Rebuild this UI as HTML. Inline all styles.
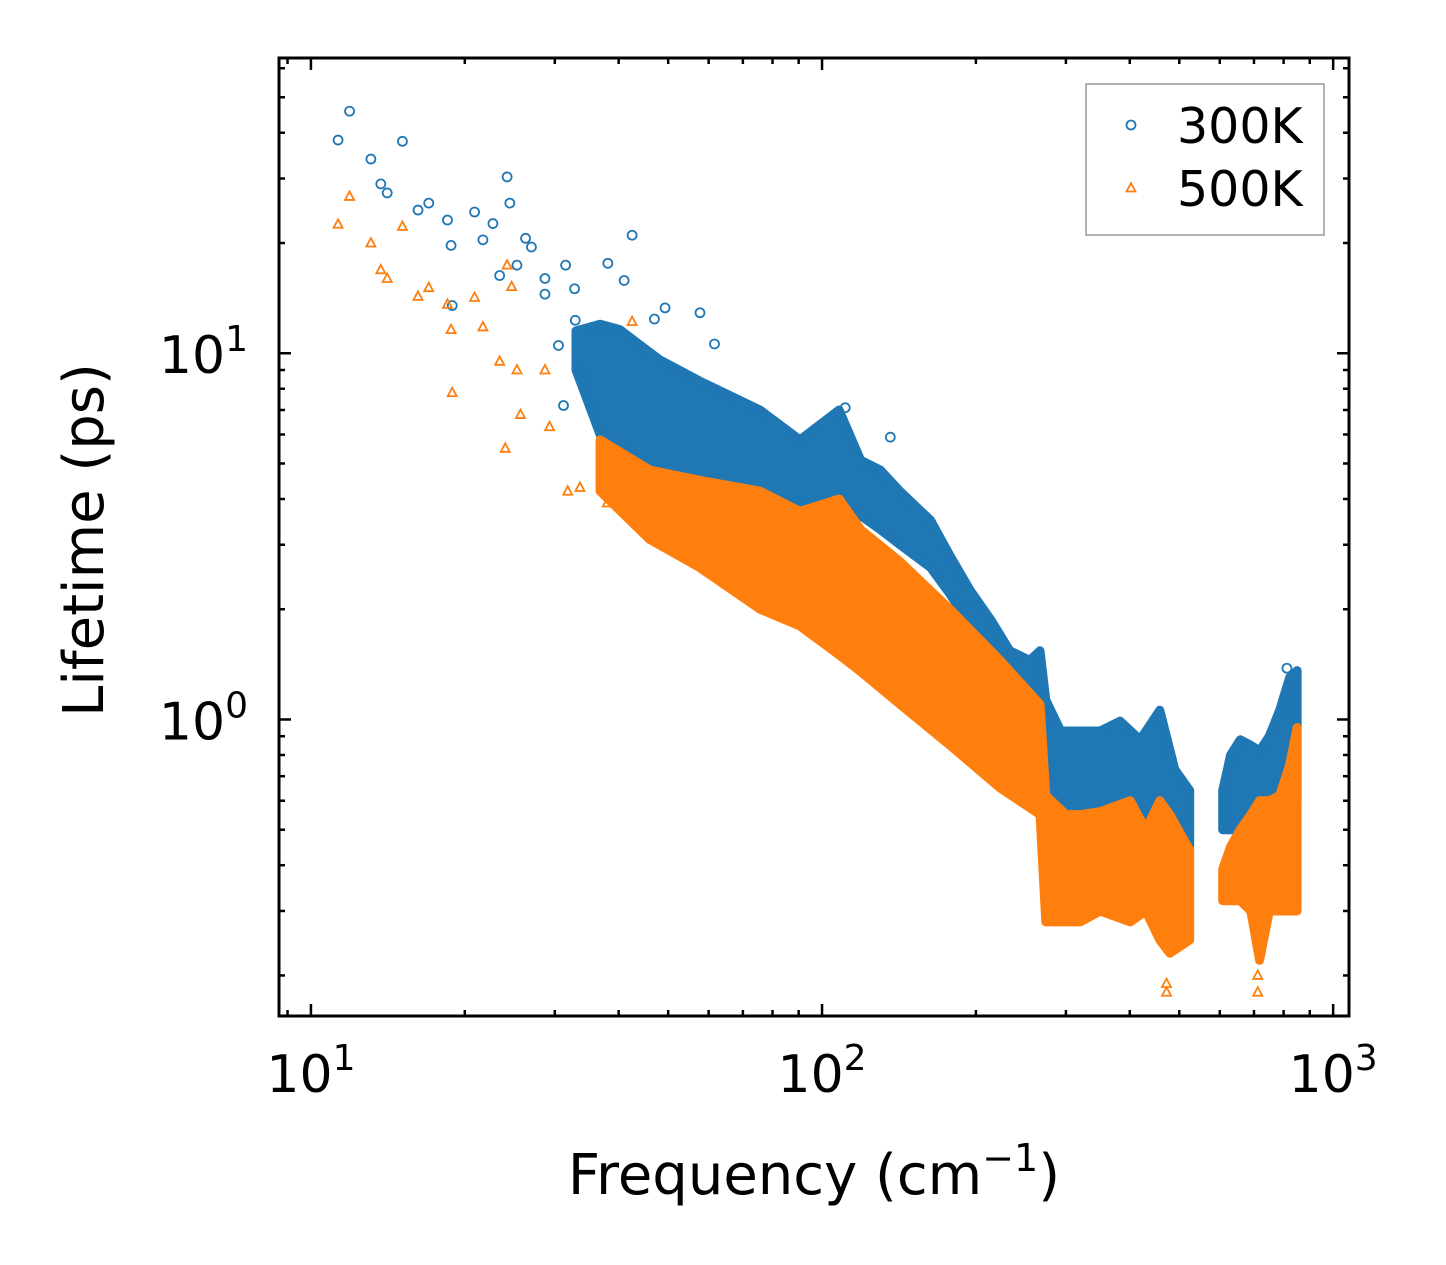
<!DOCTYPE html>
<html><head><meta charset="utf-8">
<style>
html,body{margin:0;padding:0;background:#fff;}
svg{display:block;font-family:"DejaVu Sans","Liberation Sans",sans-serif;}
</style></head>
<body>
<svg id="chart" width="1446" height="1265" viewBox="0 0 1446 1265" xmlns="http://www.w3.org/2000/svg"></svg>
<script>
// ---- data ----
const blueBandFreq = [33,36.8,40.2,48.1,57.6,75.6,90.5,108,119,130,142,163,178,195,214,233,255,267,274,293,320,350,383,419,458,490,524];
const blueBandUpper = [11.5,12,11.6,9.6,8.4,7.0,5.8,7.0,5.1,4.8,4.2,3.5,2.8,2.25,1.87,1.54,1.45,1.54,1.13,0.93,0.93,0.93,0.99,0.88,1.06,0.73,0.64];
const blueBandLower = [9,6,5.5,4.8,4.5,4.2,3.8,3.9,3.6,3.3,3.0,2.6,2.2,1.8,1.5,1.2,1.0,0.9,0.6,0.55,0.55,0.55,0.55,0.55,0.5,0.45,0.45];
const blueBand2Freq = [608,630,658,690,718,750,786,822,850];
const blueBand2Upper = [0.64,0.8,0.88,0.85,0.82,0.9,1.06,1.3,1.36];
const blueBand2Lower = [0.5,0.5,0.5,0.5,0.5,0.5,0.5,0.55,0.6];
const orangeBandFreq = [36.8,46,57.6,75.6,90.5,108,119,142,178,223,267,274,300,320,350,401,430,458,479,524];
const orangeBandUpper = [5.8,4.8,4.5,4.2,3.7,4.0,3.3,2.7,2.0,1.45,1.1,0.62,0.55,0.55,0.56,0.6,0.5,0.6,0.55,0.44];
const orangeBandLower = [4.2,3.1,2.6,2.0,1.8,1.5,1.35,1.1,0.85,0.65,0.55,0.28,0.28,0.28,0.3,0.28,0.3,0.25,0.23,0.25];
const orangeBand2Freq = [608,630,658,690,718,750,786,822,850];
const orangeBand2Upper = [0.39,0.45,0.5,0.55,0.6,0.6,0.62,0.75,0.95];
const orangeBand2Lower = [0.32,0.32,0.32,0.3,0.22,0.3,0.3,0.3,0.3];
const blueFreq = [11.3,11.9,13.1,13.7,14.1,15.1,16.2,17.0,18.5,18.8,18.9,20.9,21.7,22.7,23.4,24.2,24.5,25.3,26.3,27,28.7,28.7,31.5,32.8,32.9,33.6,38.1,41,42.5,47,49.3,57.7,61.6,111,136,812,30.5,31.2];
const blueLife = [38.2,45.8,33.9,29.0,27.4,37.9,24.6,25.7,23.1,19.7,13.5,24.3,20.4,22.6,16.3,30.3,25.7,17.4,20.6,19.5,16,14.5,17.4,15,12.3,8.9,17.6,15.8,21.0,12.4,13.3,12.9,10.6,7.1,5.9,1.38,10.5,7.2];
const orangeFreq = [11.3,11.9,13.1,13.7,14.1,15.1,16.2,17.0,18.5,18.8,18.9,20.9,21.7,23.4,24.2,24.7,25.3,25.7,24,28.7,29.3,31.8,33.6,42.5,38,472,472,712,712];
const orangeLife = [22.5,26.8,20.0,16.9,16.0,22.2,14.3,15.1,13.6,11.6,7.8,14.2,11.8,9.5,17.4,15.2,9.0,6.8,5.5,9.0,6.3,4.2,4.3,12.2,3.9,0.19,0.18,0.2,0.18];
const xTickVals = [10,100,1000];
const xTickExp = ["1","2","3"];
const yTickVals = [1,10];
const yTickExp = ["0","1"];

// ---- axes ----
const L=279,R=1349,T=58,B=1016;
const xMin=Math.log10(8.66), xMax=Math.log10(1074);
const yMin=Math.log10(0.155), yMax=Math.log10(64);
const xs=v=>L+(Math.log10(v)-xMin)/(xMax-xMin)*(R-L);
const ys=v=>B-(Math.log10(v)-yMin)/(yMax-yMin)*(B-T);
const svg=document.getElementById('chart');
const NS='http://www.w3.org/2000/svg';
function mk(tag,attrs,parent){const e=document.createElementNS(NS,tag);for(const k in attrs)e.setAttribute(k,attrs[k]);(parent||svg).appendChild(e);return e;}

const BLUE='#1f77b4', ORANGE='#ff7f0e';
function band(freq,up,lo,color,name){
  let pts=[];
  for(let i=0;i<freq.length;i++)pts.push(xs(freq[i]).toFixed(1)+','+ys(up[i]).toFixed(1));
  for(let i=freq.length-1;i>=0;i--)pts.push(xs(freq[i]).toFixed(1)+','+ys(lo[i]).toFixed(1));
  const p=mk('polygon',{points:pts.join(' '),fill:color,stroke:color,'stroke-width':9,'stroke-linejoin':'round'});
  
  
}
function circ(x,y,name){const c=mk('circle',{cx:x,cy:y,r:4.5,fill:'none',stroke:BLUE,'stroke-width':1.8});
  
  }
function tri(x,y,name){const t=mk('polygon',{points:`${x},${y-5} ${x-4.5},${y+3.5} ${x+4.5},${y+3.5}`,fill:'none',stroke:ORANGE,'stroke-width':1.8});
  
  }

band(blueBandFreq,blueBandUpper,blueBandLower,BLUE,'band-300k');
band(blueBand2Freq,blueBand2Upper,blueBand2Lower,BLUE,'band-300k-high');
for(let i=0;i<blueFreq.length;i++)circ(xs(blueFreq[i]),ys(blueLife[i]),'point-300k');
band(orangeBandFreq,orangeBandUpper,orangeBandLower,ORANGE,'band-500k');
band(orangeBand2Freq,orangeBand2Upper,orangeBand2Lower,ORANGE,'band-500k-high');
for(let i=0;i<orangeFreq.length;i++)tri(xs(orangeFreq[i]),ys(orangeLife[i]),'point-500k');

// frame
const fr=mk('rect',{x:L,y:T,width:R-L,height:B-T,fill:'none',stroke:'#000','stroke-width':3});



// ticks
const tg=mk('g',{stroke:'#000','stroke-width':2.5});


for(let d=0;d<4;d++){for(let m=1;m<10;m++){const v=m*Math.pow(10,d);const x=xs(v);if(x<L||x>R)continue;const len=m==1?12:6;
  mk('line',{x1:x,y1:B,x2:x,y2:B-len},tg);mk('line',{x1:x,y1:T,x2:x,y2:T+len},tg);}}
for(let d=-1;d<2;d++){for(let m=1;m<10;m++){const v=m*Math.pow(10,d);const y=ys(v);if(y<T||y>B)continue;const len=m==1?12:6;
  mk('line',{x1:L,y1:y,x2:L+len,y2:y},tg);mk('line',{x1:R,y1:y,x2:R-len,y2:y},tg);}}

// tick labels
for(let i=0;i<xTickVals.length;i++){const t=mk('text',{x:xs(xTickVals[i]),y:1092,'font-size':52,'text-anchor':'middle',fill:'#000'});
  
  
  t.innerHTML='10<tspan dy="-22" font-size="36">'+xTickExp[i]+'</tspan>';}
for(let i=0;i<yTickVals.length;i++){const t=mk('text',{x:248,y:ys(yTickVals[i])+20,'font-size':52,'text-anchor':'end',fill:'#000'});
  
  
  t.innerHTML='10<tspan dy="-22" font-size="36">'+yTickExp[i]+'</tspan>';}

// axis titles
const xt=mk('text',{x:814,y:1194,'font-size':56,'text-anchor':'middle',fill:'#000'});


xt.innerHTML='Frequency (cm<tspan dy="-23" font-size="38">\u22121</tspan><tspan dy="23">)</tspan>';
const yt=mk('text',{x:0,y:0,'font-size':56,'text-anchor':'middle',fill:'#000',transform:'translate(103,540) rotate(-90)'});


yt.textContent='Lifetime (ps)';

// legend
const lg=mk('g',{});


mk('rect',{x:1086,y:84,width:238,height:151,fill:'#fff',stroke:'#999','stroke-width':1.5},lg);
const c1=mk('circle',{cx:1131,cy:125,r:4.5,fill:'none',stroke:BLUE,'stroke-width':1.8},lg);


const t1=mk('text',{x:1177,y:143,'font-size':49,fill:'#000'},lg);


t1.textContent='300K';
const p2=mk('polygon',{points:'1131,183 1126.5,191.5 1135.5,191.5',fill:'none',stroke:ORANGE,'stroke-width':1.8},lg);


const t2=mk('text',{x:1177,y:206,'font-size':49,fill:'#000'},lg);


t2.textContent='500K';
</script>
</body></html>
